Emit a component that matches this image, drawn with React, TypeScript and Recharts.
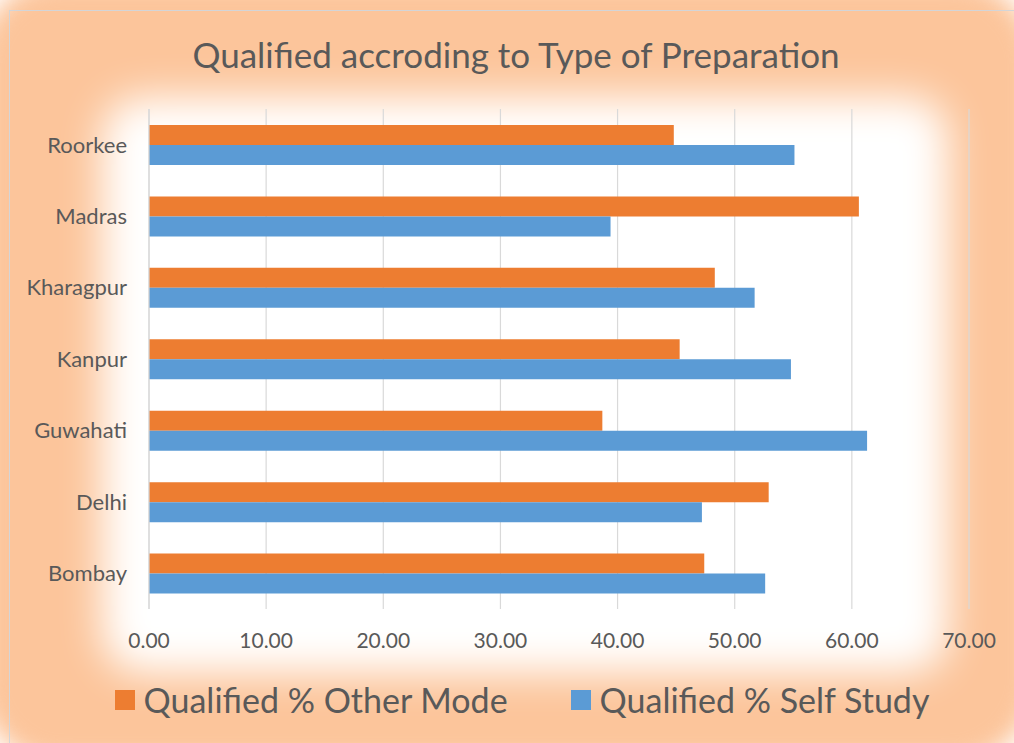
import React from 'react';
import { BarChart, Bar, XAxis, YAxis, CartesianGrid, Legend } from 'recharts';

const categories = ['Roorkee', 'Madras', 'Kharagpur', 'Kanpur', 'Guwahati', 'Delhi', 'Bombay'];
const otherMode = [44.8, 60.6, 48.3, 45.3, 38.7, 52.9, 47.4];
const selfStudy = [55.1, 39.4, 51.7, 54.8, 61.3, 47.2, 52.6];
const xTicks = [0, 10, 20, 30, 40, 50, 60, 70];
const seriesNames = ['Qualified % Other Mode', 'Qualified % Self Study'];
const seriesColors = ['#ED7D31', '#5B9BD5'];
const title = 'Qualified accroding to Type of Preparation';

const data = categories.map((c, i) => ({ category: c, other: otherMode[i], self: selfStudy[i] }));

const FONT = 'Lato, "Open Sans", sans-serif';
const TEXT = '#595959';

const LegendContent = () => (
  <div style={{ display: 'flex', justifyContent: 'center', alignItems: 'center', fontFamily: FONT, color: TEXT, fontSize: 34, whiteSpace: 'nowrap' }}>
    {seriesNames.map((n, i) => (
      <div key={n} style={{ display: 'flex', alignItems: 'center', marginLeft: i === 0 ? 0 : 63 }}>
        <div style={{ width: 20, height: 20, background: seriesColors[i], marginRight: 9 }} />
        <span>{n}</span>
      </div>
    ))}
  </div>
);

export default function App() {
  return (
    <div style={{ position: 'absolute', left: 0, top: 0, width: 1014, height: 743, overflow: 'hidden', background: '#ffffff' }}>
      <div style={{ position: 'absolute', left: -20, top: -20, width: 1054, height: 783, borderRadius: 80, background: '#fcc59b', filter: 'blur(12px)' }} />
      <div style={{ position: 'absolute', left: 102, top: 97, width: 846, height: 576, borderRadius: 40, background: '#ffffff', filter: 'blur(20px)' }} />
      <div style={{ position: 'absolute', left: 9, top: 10, width: 1020, height: 750, borderTop: '1.5px solid #d3d5d8', borderLeft: '1.5px solid #d3d5d8' }} />
      <div style={{ position: 'absolute', left: 0, top: 33, width: 1032, textAlign: 'center', fontFamily: FONT, fontSize: 35, color: TEXT, whiteSpace: 'nowrap' }}>
        {title}
      </div>
      <div style={{ position: 'absolute', left: 0, top: 0 }}>
        <BarChart
          width={1014}
          height={743}
          data={data}
          layout="vertical"
          margin={{ top: 109, right: 45, bottom: 84, left: 0 }}
          barGap={0}
        >
          <CartesianGrid horizontal={false} vertical={true} stroke="#d9d9d9" strokeWidth={1.2} />
          <XAxis
            type="number"
            domain={[0, 70]}
            ticks={xTicks}
            tickFormatter={(v: number) => v.toFixed(2)}
            axisLine={false}
            tickLine={false}
            tickSize={0}
            tickMargin={24}
            height={50}
            interval={0}
            tick={{ fill: TEXT, fontSize: 21, fontFamily: FONT }}
          />
          <YAxis
            type="category"
            dataKey="category"
            width={149}
            axisLine={{ stroke: '#d9d9d9', strokeWidth: 1.2 }}
            tickLine={false}
            tickSize={0}
            tickMargin={22}
            interval={0}
            tick={{ fill: TEXT, fontSize: 22, fontFamily: FONT }}
          />
          <Legend
            layout="horizontal"
            verticalAlign="middle"
            align="center"
            wrapperStyle={{ top: 679, left: 0, width: 1044 }}
            content={<LegendContent />}
          />
          <Bar dataKey="other" name={seriesNames[0]} fill={seriesColors[0]} barSize={20} isAnimationActive={false} />
          <Bar dataKey="self" name={seriesNames[1]} fill={seriesColors[1]} barSize={20} isAnimationActive={false} />
        </BarChart>
      </div>
    </div>
  );
}
